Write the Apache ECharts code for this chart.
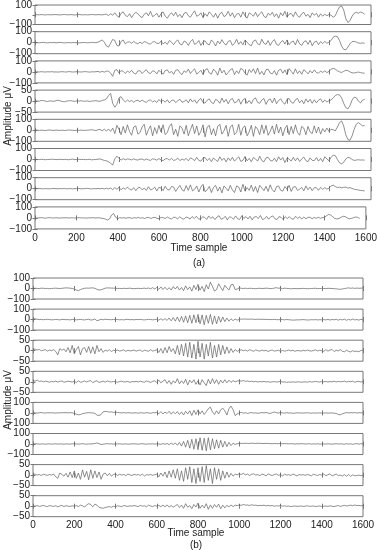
<!DOCTYPE html>
<html><head><meta charset="utf-8">
<script src="https://cdn.jsdelivr.net/npm/echarts@6/dist/echarts.min.js"></script>
<style>html,body{margin:0;padding:0;background:#fff}#c{width:380px;height:550px}</style>
</head><body><div id="c"></div>
<script>
const STEP = 10;
const xTicks = ['0','200','400','600','800','1000','1200','1400','1600'];
const xLabel = 'Time sample';
const yLabel = 'Amplitude \u03bcV';
const panelLabels = ['(a)', '(b)'];
const aRanges = [100,100,100,50,100,100,100,100];
const bRanges = [100,100,50,50,100,100,50,50];

// ---- panel (a) traces, samples 0..1570 every 10 ----
const a1 = [0,1,-1,2,0,-2,1,0,-1,2,1,0,-2,1,3,0,-1,2,0,-3,1,2,0,-1,1,-2,0,3,1,-1,2,0,-1,3,
5,-8,10,-5,
20,-10,-25,15,30,-5,-20,10,-30,5,
25,10,-15,-30,5,20,-10,35,-20,-5,
15,-25,10,30,-15,-35,0,20,-10,25,
-20,5,-30,15,25,-10,-25,10,40,-15,
-5,20,-30,10,-15,30,5,-25,15,-35,
10,25,-20,-5,35,-15,20,-30,5,15,
-25,30,-10,-35,20,5,-15,25,-20,10,
30,-15,-30,15,-5,25,-20,10,-35,20,
-10,35,-25,5,15,-20,30,-10,-25,10,
25,-15,5,-30,20,-5,15,-25,10,-15,
5,-10,3,
-5,-25,-10,40,80,90,50,-40,-80,-60,-15,15,25,15,28,20,5];
const a2 = [2,0,-1,1,3,0,-2,1,0,2,-1,1,3,0,-2,0,1,-1,2,0,1,-2,0,2,1,-1,0,3,2,0,
5,15,25,5,-30,-40,-5,30,20,-25,-30,10,25,
-10,5,8,-6,12,-3,-10,5,-8,10,
4,-8,-12,6,10,-5,-8,15,-10,5,
-15,20,5,-18,10,25,-12,-20,15,5,
-25,10,30,-15,-5,20,-25,8,18,-12,
-20,25,5,-30,15,-10,28,-5,-22,12,
20,-25,-5,30,-15,10,-20,25,5,-18,
-28,15,25,-10,-20,32,-5,-15,20,-25,
10,28,-15,-25,5,20,-12,25,-18,5,
15,-20,30,-10,-25,8,18,-15,22,-28,
5,15,-18,10,-8,12,-5,5,
20,50,60,55,20,-30,-60,-65,-40,-10,10,12,5,-3,-5,-2,-5];
const a3 = [0,1,-1,2,0,-1,1,0,2,-1,0,-2,1,2,0,-1,3,1,-1,0,2,0,-1,1,3,0,-2,1,0,2,4,-3,5,-2,6,
8,-12,-40,15,20,-10,12,5,-15,8,
-5,15,-10,-20,8,12,-15,5,20,-8,
-15,10,5,-18,15,-5,-20,12,18,-10,
5,-22,15,20,-8,-25,10,-5,25,-15,
10,28,-20,-5,15,-25,18,30,-10,-20,
25,5,-30,35,-10,15,-28,-5,20,30,
-25,10,-15,32,20,-10,-30,22,-5,28,
-15,35,-22,5,-28,20,25,-10,-18,12,
-30,15,25,-12,18,-25,30,5,-20,28,
-15,10,-22,20,5,-18,12,-10,18,-5,
-12,8,-5,10,-6,4,
25,32,25,10,0,-5,5,15,12,0,-8,-10,-5,-2,-6,-10,-12];
const a4 = [0,1,-1,3,2,0,-2,1,0,-1,2,4,1,-2,-3,0,1,2,0,-1,1,0,2,-1,0,1,-2,0,1,2,0,-1,3,5,
10,25,35,-10,-28,-15,15,20,5,
-4,5,-2,3,-5,2,4,-3,5,-2,
-6,3,5,-4,2,-6,7,-3,4,-5,
6,-8,3,5,-7,2,8,-5,-2,6,
-8,10,-4,6,-10,5,12,-6,-9,4,
10,-6,-12,8,3,-10,14,-5,8,-12,
6,12,-8,-4,10,-14,5,12,-10,3,
-12,8,15,-6,-10,5,12,-15,4,10,
-8,14,-12,3,10,-6,-14,8,12,-5,
-10,6,12,-8,4,-12,10,-5,8,-10,
6,-8,4,10,-6,5,-4,2,
5,15,25,30,28,15,-10,-30,-35,-20,5,18,15,0,-8,5,8];
const a5 = [0,2,-1,1,0,-2,1,3,0,-1,2,0,-1,1,-2,0,3,1,0,-2,1,0,2,-1,0,1,3,5,2,-3,5,8,-5,10,-8,12,-10,20,
-30,45,10,-40,35,-25,50,-10,-45,30,
40,-35,-20,30,55,-45,5,40,-50,25,
-30,45,-15,50,-40,-20,35,60,-40,10,
-55,40,20,-35,45,-50,5,55,-30,40,
-45,-10,50,-60,30,45,-40,15,-50,35,
55,-35,-5,45,-55,30,50,-40,-20,55,
-45,25,40,-50,-15,45,-55,35,10,-40,
50,-30,45,-45,-10,40,-35,55,-25,30,
-50,15,45,-40,35,-30,50,-20,-45,35,
20,-40,35,-15,-30,40,-25,30,-35,15,
-15,20,-10,
10,5,-5,30,70,85,40,-40,-85,-90,-50,10,55,70,55,40,45];
const a6 = [1,0,-1,2,0,-2,1,0,3,1,-1,0,2,-1,1,0,-2,1,3,0,-1,2,0,1,-1,0,2,-3,-1,0,3,5,-2,-8,-12,-20,
-35,-50,5,30,10,-5,8,
-3,5,2,-4,6,-2,-5,3,4,-6,
5,-3,-8,6,2,-6,8,-4,-10,5,
8,-5,10,-8,-3,12,-10,5,-6,10,
-12,15,5,-10,20,-8,-15,12,18,-10,
10,-20,15,-5,-18,25,-8,12,-22,15,
-10,20,-15,5,25,-18,-8,28,-12,10,
-20,18,5,-15,30,-10,-22,15,20,-8,
-15,12,-20,25,-5,18,-28,12,5,-15,
20,-12,15,-18,5,22,-10,-20,15,-8,
-10,18,-15,10,-20,25,5,-10,
20,40,35,0,-30,-40,-25,5,20,15,0,-8,-5,-2,-5,-4,-6];
const a7 = [0,1,2,0,-1,1,0,-2,1,2,0,-1,1,0,2,-1,0,1,-2,1,0,2,-1,0,1,3,0,-2,1,0,2,-1,3,-2,
4,-3,6,-8,10,-5,12,-10,8,-6,
15,-5,-12,10,-18,8,12,-10,5,-15,
18,-10,-4,14,-20,12,6,-16,22,-8,
-12,20,15,-25,5,30,-10,-22,28,-15,
35,-20,-5,25,-30,15,40,-28,-10,20,
-35,12,30,-22,15,-38,25,5,-20,30,
-12,-35,25,15,-30,40,-22,10,-15,32,
-25,20,-35,30,8,-18,22,-25,35,-10,
-30,18,25,-15,-22,20,-5,30,-25,15,
20,-15,-5,12,-20,25,-10,15,-18,10,
8,-15,12,-6,10,-4,5,
25,32,20,10,15,8,12,15,5,10,2,-5,-8,-12,-15,-18,-20];
const a8 = [0,-1,1,2,0,-3,1,2,0,-1,1,0,-2,1,0,2,-1,0,1,-1,0,2,1,-1,0,-2,1,0,2,-1,0,1,-3,-5,-10,
-20,-10,25,40,5,-8,3,-2,
2,-4,3,1,-5,3,-2,5,-3,2,
-6,3,4,-5,2,6,-4,-8,5,2,
-5,8,-3,-10,6,4,-8,10,-5,-12,
8,3,-10,12,-6,15,-8,-12,10,5,
-14,18,-5,10,-15,8,20,-12,-6,15,
-18,10,5,-12,18,-8,-14,20,-5,12,
-10,15,-18,8,12,-6,22,-15,-8,14,
-12,10,18,-8,-15,12,5,-14,10,-6,
12,-8,-12,15,-5,10,-10,8,-8,5,
6,-8,5,-4,6,-3,2,5,
20,32,25,10,-5,-10,-5,5,15,12,0,-8,-5,2,8,5,-5];

// ---- panel (b) traces, samples 0..1600 every 10 ----
const b1 = [0,2,1,-1,3,2,0,1,-2,0, 2,3,1,0,2,4,6,5,3,0, -5,-15,-20,-10,-3,2,4,3,5,6, 2,-8,-15,-12,-5,3,6,5,4,3, 2,0,1,-1,2,0,1,3,0,-2, 0,2,-1,1,3,0,5,-3,8,-5,
10,-8,15,-10,12,-12,8,-15,18,-5, 20,-15,10,-20,25,-10,15,-25,30,-10, 40,-15,20,-30,35,-5,60,20,-25,-10, 45,10,-20,30,5,-15,35,40,-10,-5, 5,
2,0,3,-1,2,1,0,-2,1,2, 0,1,3,2,-1,0,4,8,2,5, -2,3,1,0,-3,-1,0,-2,-1,0, 1,0,-2,-1,0,1,2,-1,0,1, 0,-1,2,1,0,-2,-3,-6,-8,-4, -1,3,6,2,5,1,4,2,3,5];
const b2 = [5,8,3,0,2,-1,1,3,0,-2, -1,1,0,-3,2,1,-1,0,-3,2, 1,-2,0,2,-1,-3,1,3,-4,-2, 5,-10,-5,3,-2,4,1,0,-1,2, 0,1,-2,0,-3,1,2,-1,0,-2, 1,0,2,-1,-3,0,2,1,-2,0,
3,-5,8,-6,10,-8,15,-12,20,-15, 25,-20,30,-25,35,-30,40,-35,45,-30, 50,-40,45,-50,40,-35,50,-45,35,-40, 30,-25,25,-20,15,-15,8,-10,5,-5, 2,
5,4,6,3,4,5,3,2,4,3, 2,3,1,2,0,1,2,0,-1,1, 0,-2,1,-1,-3,-5,-4,-2,-3,-1, 0,-2,-4,-3,-1,-2,0,-3,-1,-2, 0,-3,2,-4,1,-2,3,-5,2,-3, 4,-6,2,-4,5,-3,1,-5,3,-2];
const b3 = [5,8,3,6,0,2,5,-2,3,0, 5,-3,-20,10,2,8,-5,15,-10,25, -15,5,20,-20,10,15,-8,20,-12,18, -15,25,-5,10,-8,3,-2,5,-4,2, 0,3,-2,1,4,-3,2,-1,0,3, -2,1,3,-4,2,0,-3,5,-2,1,
4,-8,10,-12,15,-10,20,-5,10,-15, 25,-20,30,-25,35,-30,40,-35,30,-40, 45,-30,35,-40,30,-25,40,-35,25,-30, 30,-20,25,-15,18,-12,10,-8,5,-3, 2,
4,0,3,-2,5,1,-3,4,0,-2, 3,-1,2,-4,1,3,-2,0,2,-3, 1,-2,0,3,-1,2,-3,1,0,-2, 2,-1,3,0,-2,1,4,-1,2,0, -3,5,-2,3,6,-4,2,-1,5,-3, -5,2,-3,-6,0,-4,-2,-5,1,3];
const b4 = [5,3,8,2,4,0,3,1,-2,2, 0,3,-1,2,4,-2,0,3,1,-1, 2,-3,5,-2,0,4,-1,3,6,-4, 2,5,-3,0,3,-2,4,1,-1,2, 0,-2,1,3,-1,0,2,-3,1,0, 2,-1,3,0,-2,4,1,-3,2,5,
-3,8,-5,3,10,-8,6,-12,5,-6, 15,-10,5,-8,12,-15,8,-5,10,-12, 5,-15,10,-5,-18,12,-10,15,-8,10, -12,8,-6,10,-5,8,-3,6,0,4, 5,
3,6,2,4,1,3,0,2,-1,1, 0,2,-1,1,-2,0,1,-1,0,2, -1,0,-3,-1,-2,0,-2,-1,0,-2, -1,0,-2,1,-1,0,2,0,-1,1, 0,2,-1,1,0,3,-1,2,0,1, 3,-1,2,0,3,-2,1,2,-1,1];
const b5 = [2,0,-1,1,3,0,-1,2,0,1, 0,-2,1,0,2,1,3,0,2,1, -5,-12,-18,-15,-8,-3,0,2,1,0, -5,-20,-25,-15,10,15,12,8,10,5, 6,4,2,0,3,-1,2,1,-2,0, 1,-3,2,0,-2,3,0,-4,2,1,
5,-8,12,-10,8,-5,15,-12,10,-8, 12,-15,10,-20,15,-10,20,-25,25,-15, 30,-10,20,-15,10,40,55,10,-15,20, -10,30,45,20,-20,40,65,30,-25,-10, 0,
5,-3,2,-5,0,3,-2,1,-4,0, 3,-1,5,-2,-5,2,8,3,-2,5, 0,-3,2,-1,0,-4,-2,1,-1,0, -2,0,1,-1,-3,0,-2,-1,0,-2, -1,0,-2,-1,0,-3,-5,-15,-18,-8, -2,3,0,2,1,3,-1,2,1,0];
const b6 = [0,2,1,-1,0,1,-2,0,1,-1, 0,2,-1,1,0,-2,1,0,-1,1, 2,0,-1,1,3,0,-2,1,0,2, 5,10,3,-5,-2,1,4,0,2,-1, 1,0,2,-1,0,1,-2,0,1,2, 0,-1,1,3,0,-2,1,0,2,-1,
2,0,-3,4,-2,5,-6,8,-5,10, -12,15,-20,25,-30,35,-40,45,-50,50, -55,60,-60,55,-65,60,-55,50,-45,40, -40,35,-30,25,-25,15,-15,8,-5,3, 5,
6,5,7,6,5,8,6,5,7,6, 5,4,6,5,4,3,5,4,3,5, 2,4,3,1,3,2,0,2,1,3, 2,0,1,3,-1,1,0,2,-1,0, 1,-1,2,0,-2,1,3,-1,2,0, -2,3,-1,2,-3,1,4,-2,3,0];
const b7 = [2,5,0,3,-2,4,1,-1,3,0, 5,-8,-15,10,3,-5,8,-10,15,-12, 20,-15,10,-20,25,-10,18,-22,25,-15, 20,-12,15,-20,5,10,-3,8,-5,3, 6,-2,4,0,3,-3,5,1,-2,4, 0,3,-2,5,-4,2,0,3,-1,2,
5,-8,10,-5,15,-12,20,-10,25,-15, 30,-25,20,-30,35,-20,40,-35,30,-40, 35,-30,40,-35,45,-25,30,-40,35,-20, 30,-25,20,-15,15,-10,8,-5,4,2, 6,
3,8,1,5,-2,4,6,0,3,-3, 5,2,-4,6,1,-2,3,5,-1,2, -3,4,0,2,-2,5,1,-4,3,0, 2,-1,3,0,-3,4,1,-2,3,0, 5,-3,2,6,-4,1,5,-2,0,-4, 2,-5,3,-6,1,-3,-2,0,-3,-1];
const b8 = [2,0,3,-1,1,4,0,-2,3,1, -1,2,-3,1,4,-2,3,0,-1,2, 0,3,-2,5,2,-4,6,12,8,-3, 10,5,-5,-8,-10,-6,-4,-2,-5,0, -3,2,0,-2,3,1,-1,2,0,3, 1,-2,4,0,2,-3,5,1,-2,3,
0,4,-2,5,-3,6,-4,3,-5,2, 8,-6,5,-10,12,-5,3,-12,8,-4, 15,-10,5,-8,12,-15,6,-10,8,-5, 10,-12,5,-8,4,-3,6,-2,5,3, 6,
4,8,5,6,3,7,4,5,2,4, 3,5,1,4,2,3,0,2,1,3, 0,2,-1,1,-2,0,1,-1,0,1, -1,0,2,-1,0,1,-2,0,1,-1, 0,1,-1,2,0,-2,1,3,-1,2, 4,1,3,5,2,6,3,4,2,3];

const aTraces = [a1,a2,a3,a4,a5,a6,a7,a8];
const bTraces = [b1,b2,b3,b4,b5,b6,b7,b8];

// ---- layout ----
const FONT = '"Liberation Sans", Arial, Helvetica, sans-serif';
const TXT = '#222';
const BOX = '#777';
const LINE = '#606060';
const panels = [
  {traces: aTraces, ranges: aRanges, left: 35, width: 336, top0: 2.5, pitch: 29.2, h: 22},
  {traces: bTraces, ranges: bRanges, left: 33, width: 330, top0: 278, pitch: 31.1, h: 21}
];

const grid = [], xAxis = [], yAxis = [], series = [];
const minus = v => (v < 0 ? '\u2212' + Math.abs(v) : String(v));
panels.forEach((p, pi) => {
  p.traces.forEach((tr, i) => {
    const g = grid.length;
    const r = p.ranges[i];
    const last = i === p.traces.length - 1;
    grid.push({left: p.left, top: p.top0 + p.pitch * i, width: p.width, height: p.h,
      show: true, borderColor: BOX, borderWidth: 1, backgroundColor: 'transparent'});
    const xBase = {gridIndex: g, type: 'value', min: 0, max: 1600, interval: 200,
      axisLine: {show: false}, splitLine: {show: false},
      axisTick: {show: true, inside: true, length: 2.5, lineStyle: {color: BOX, width: 1}}};
    xAxis.push(Object.assign({}, xBase, {position: 'bottom',
      axisLabel: {show: last, margin: 4, fontSize: 10, color: TXT, fontFamily: FONT,
        showMinLabel: true, showMaxLabel: true,
        formatter: v => xTicks[Math.round(v / 200)]}}));
    xAxis.push(Object.assign({}, xBase, {position: 'top', axisLabel: {show: false}}));
    const yBase = {gridIndex: g, type: 'value', min: -r, max: r, interval: r,
      axisLine: {show: false}, splitLine: {show: false},
      axisTick: {show: true, inside: true, length: 2.5, lineStyle: {color: BOX, width: 1}}};
    yAxis.push(Object.assign({}, yBase, {position: 'left',
      axisLabel: {show: true, margin: 3, fontSize: 10, color: TXT, fontFamily: FONT,
        showMinLabel: true, showMaxLabel: true, hideOverlap: false, formatter: minus}}));
    yAxis.push(Object.assign({}, yBase, {position: 'right', axisLabel: {show: false}}));
    series.push({type: 'line', xAxisIndex: 2 * g, yAxisIndex: 2 * g,
      data: tr.map((v, j) => [j * STEP, v]),
      showSymbol: false, symbol: 'none', silent: true, animation: false, clip: true,
      lineStyle: {color: LINE, width: 0.7}});
  });
});

const txt = (text, x, y, rot) => ({type: 'text', x, y, rotation: rot || 0,
  style: {text, font: '10px ' + FONT, fill: TXT, textAlign: 'center', textVerticalAlign: 'middle'}});
const graphic = [
  txt(yLabel, 8, 116, Math.PI / 2),
  txt(yLabel, 8, 400, Math.PI / 2),
  txt(xLabel, 199, 248), txt(panelLabels[0], 199, 263),
  txt(xLabel, 196, 533), txt(panelLabels[1], 196, 545)
];

const chart = echarts.init(document.getElementById('c'), null, {renderer: 'canvas'});
chart.setOption({animation: false, backgroundColor: '#fff', grid, xAxis, yAxis, series, graphic});
</script></body></html>
